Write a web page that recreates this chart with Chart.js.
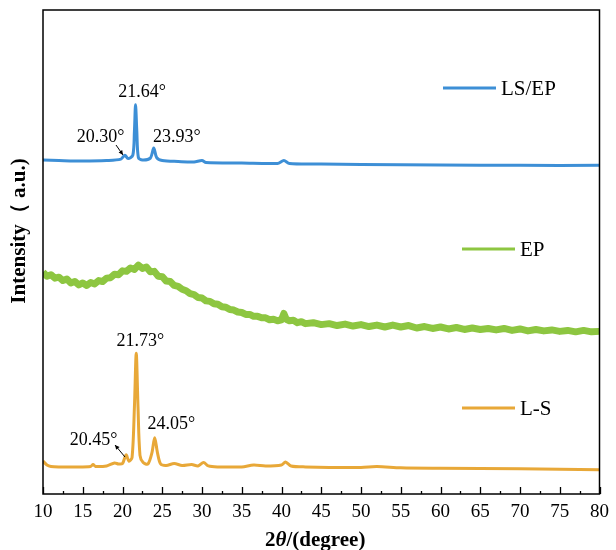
<!DOCTYPE html>
<html lang="en">
<head>
  <meta charset="UTF-8" />
  <title>XRD</title>
  <script src="https://cdn.jsdelivr.net/npm/chart.js"></script>
  <style>
    body { margin: 0; background: #fff; }
    #wrap { width: 616px; height: 550px; }
  </style>
</head>
<body>
  <div id="wrap"><canvas id="xrd"></canvas></div>

  <script>
    // 2theta (degree) / intensity (a.u., curves offset)
    const lsepX = [10, 12, 15, 18, 19.8, 20.3, 20.7, 21.3, 21.5, 21.64, 21.8, 22.0, 22.5, 23.5, 23.93, 24.3, 25, 27, 29, 30, 30.5, 35, 39.5, 40.3, 41, 45, 50, 60, 70, 80];
    const lsepY = [69.0, 68.9, 68.8, 68.9, 69.2, 70.0, 69.3, 70.0, 75.0, 80.4, 75.0, 69.5, 69.0, 69.4, 71.5, 69.5, 68.9, 68.7, 68.6, 68.9, 68.5, 68.4, 68.3, 68.9, 68.3, 68.2, 68.1, 68.0, 67.9, 67.9];

    const epX = [10, 10.5, 11, 11.5, 12, 12.5, 13, 13.5, 14, 14.5, 15, 15.5, 16, 16.5, 17, 17.5, 18, 18.5, 19, 19.5,
      20, 20.5, 21, 21.5, 22, 22.5, 23, 23.5, 24, 24.5, 25, 25.5, 26, 26.5, 27, 27.5, 28, 28.5, 29, 29.5,
      30, 30.5, 31, 31.5, 32, 32.5, 33, 33.5, 34, 34.5, 35, 35.5, 36, 36.5, 37, 37.5, 38, 38.5, 39, 39.5,
      40, 40.3, 40.6, 41, 41.5, 42, 42.5, 43, 44, 45, 46, 47, 48, 49, 50, 51, 52, 53, 54, 55,
      56, 57, 58, 59, 60, 61, 62, 63, 64, 65, 66, 67, 68, 69, 70, 71, 72, 73, 74, 75, 76, 77, 78, 79, 80];
    const epY = [45.8, 45.0, 45.3, 44.6, 44.8, 44.1, 44.4, 43.6, 43.9, 43.2, 43.6, 43.1, 43.7, 43.4, 44.1, 43.9, 44.6, 44.7, 45.4, 45.3,
      46.1, 46.0, 46.7, 46.4, 47.3, 46.6, 46.9, 45.9, 46.0, 45.0, 44.9, 44.0, 43.9, 43.1, 42.9, 42.3, 42.0, 41.4, 41.2, 40.6,
      40.5, 39.9, 39.8, 39.3, 39.2, 38.7, 38.6, 38.1, 38.0, 37.6, 37.5, 37.1, 37.1, 36.7, 36.7, 36.4, 36.4, 36.0, 36.1, 35.8,
      36.0, 37.3, 36.1, 35.8, 35.9, 35.4, 35.6, 35.2, 35.4, 35.0, 35.2, 34.8, 35.1, 34.7, 35.0, 34.6, 34.9, 34.5, 34.9, 34.5,
      34.8, 34.3, 34.6, 34.2, 34.5, 34.1, 34.4, 34.0, 34.3, 34.0, 34.2, 33.9, 34.2, 33.8, 34.1, 33.7, 34.0, 33.7, 33.9, 33.6, 33.8, 33.5, 33.8, 33.5, 33.6];

    const lsX = [10, 10.5, 11, 12, 14, 16, 16.3, 16.6, 18, 19, 19.5, 20, 20.45, 20.8, 21.2, 21.5, 21.73, 21.95, 22.2, 22.6, 23.2, 23.7, 24.05, 24.4, 24.8,
      25.5, 26.5, 27.5, 28.7, 29.5, 30.2, 30.8, 32, 35, 36.5, 38, 40, 40.5, 41.2, 43, 50, 52, 55, 60, 70, 80];
    const lsY = [6.8, 6.0, 5.7, 5.6, 5.6, 5.7, 6.1, 5.7, 5.8, 6.4, 6.2, 6.3, 8.1, 6.8, 7.5, 18.0, 29.1, 18.0, 8.0, 6.5, 6.2, 8.5, 11.6, 8.5, 6.2,
      5.9, 6.3, 5.9, 6.1, 5.8, 6.5, 5.8, 5.6, 5.6, 6.0, 5.8, 6.0, 6.6, 5.8, 5.6, 5.5, 5.7, 5.4, 5.3, 5.2, 5.0];

    const seriesNames = ["LS/EP", "EP", "L-S"];
    const seriesColors = ["#3d8fd6", "#8dc641", "#e8a838"];

    const peakLabels = ["21.64°", "20.30°", "23.93°", "21.73°", "24.05°", "20.45°"];
    const peakLabelX = [22.48, 17.24, 26.85, 22.23, 26.16, 16.36];
    const peakLabelY = [82.9, 73.8, 73.8, 31.6, 14.5, 11.2];

    const xTicks = [10, 15, 20, 25, 30, 35, 40, 45, 50, 55, 60, 65, 70, 75, 80];

    const toPoints = (xs, ys) => xs.map((x, i) => ({ x: x, y: ys[i] }));

    const serif = "'Liberation Serif', 'Times New Roman', serif";

    const decor = {
      id: "decor",
      afterDraw(chart) {
        const ctx = chart.ctx;
        const a = chart.chartArea;
        const xs = chart.scales.x;
        const ys = chart.scales.y;
        ctx.save();

        // frame
        ctx.strokeStyle = "#000";
        ctx.lineWidth = 1.5;
        ctx.strokeRect(a.left, a.top, a.right - a.left, a.bottom - a.top);

        // inward ticks
        ctx.lineWidth = 1.3;
        for (let v = 10; v <= 80; v += 2.5) {
          const px = Math.round(xs.getPixelForValue(v)) + 0.5;
          const len = (v % 5 === 0) ? 7 : 3;
          ctx.beginPath();
          ctx.moveTo(px, a.bottom);
          ctx.lineTo(px, a.bottom - len);
          ctx.stroke();
        }

        // legend entries beside each curve
        const legendY = [88, 249, 408];
        const legendX = [443, 462, 462];
        ctx.font = "21px " + serif;
        ctx.textBaseline = "middle";
        ctx.textAlign = "left";
        seriesNames.forEach((n, i) => {
          ctx.strokeStyle = seriesColors[i];
          ctx.lineWidth = 3;
          ctx.beginPath();
          ctx.moveTo(legendX[i], legendY[i]);
          ctx.lineTo(legendX[i] + 53, legendY[i]);
          ctx.stroke();
          ctx.fillStyle = "#000";
          ctx.fillText(n, legendX[i] + 58, legendY[i] + 1);
        });

        // peak labels
        ctx.font = "18px " + serif;
        ctx.textAlign = "center";
        peakLabels.forEach((t, i) => {
          ctx.fillText(t, xs.getPixelForValue(peakLabelX[i]), ys.getPixelForValue(peakLabelY[i]));
        });

        // small arrows
        const arrow = (x1, y1, x2, y2) => {
          ctx.strokeStyle = "#000";
          ctx.fillStyle = "#000";
          ctx.lineWidth = 1;
          ctx.beginPath();
          ctx.moveTo(x1, y1);
          ctx.lineTo(x2, y2);
          ctx.stroke();
          const ang = Math.atan2(y2 - y1, x2 - x1);
          ctx.beginPath();
          ctx.moveTo(x2, y2);
          ctx.lineTo(x2 - 5 * Math.cos(ang - 0.45), y2 - 5 * Math.sin(ang - 0.45));
          ctx.lineTo(x2 - 5 * Math.cos(ang + 0.45), y2 - 5 * Math.sin(ang + 0.45));
          ctx.closePath();
          ctx.fill();
        };
        arrow(116, 145, 123, 155);
        arrow(125, 457, 115, 445);

        // axis titles
        ctx.fillStyle = "#000";
        ctx.textBaseline = "middle";
        const parts = [["2", "bold 21px "], ["θ", "italic bold 21px "], ["/(degree)", "bold 21px "]];
        let total = 0;
        parts.forEach(p => { ctx.font = p[1] + serif; total += ctx.measureText(p[0]).width; });
        let cx = (a.left + a.right) / 2 - total / 2 - 6;
        ctx.textAlign = "left";
        parts.forEach(p => {
          ctx.font = p[1] + serif;
          ctx.fillText(p[0], cx, 541);
          cx += ctx.measureText(p[0]).width;
        });

        ctx.translate(20, 231);
        ctx.rotate(-Math.PI / 2);
        ctx.textAlign = "center";
        ctx.font = "bold 21px " + serif;
        ctx.fillText("Intensity（ a.u.)", 0, 0);
        ctx.restore();
      }
    };

    new Chart(document.getElementById("xrd"), {
      type: "line",
      data: {
        datasets: [
          { label: seriesNames[0], data: toPoints(lsepX, lsepY), borderColor: seriesColors[0], borderWidth: 3 },
          { label: seriesNames[1], data: toPoints(epX, epY), borderColor: seriesColors[1], borderWidth: 7, tension: 0 },
          { label: seriesNames[2], data: toPoints(lsX, lsY), borderColor: seriesColors[2], borderWidth: 3 }
        ]
      },
      options: {
        responsive: true,
        maintainAspectRatio: false,
        animation: false,
        layout: { padding: { left: 43, right: 12, top: 10, bottom: 0 } },
        elements: { point: { radius: 0 }, line: { tension: 0.3, borderJoinStyle: "round" } },
        plugins: { legend: { display: false }, tooltip: { enabled: false } },
        scales: {
          x: {
            type: "linear",
            min: 10,
            max: 80,
            afterBuildTicks: s => { s.ticks = xTicks.map(v => ({ value: v })); },
            afterFit: s => { s.height = 56; },
            grid: { display: false, drawTicks: false },
            border: { display: false },
            ticks: { color: "#000", padding: 7, maxRotation: 0, font: { family: serif, size: 19 } }
          },
          y: {
            display: false,
            min: 0,
            max: 100
          }
        }
      },
      plugins: [decor]
    });
  </script>
</body>
</html>
